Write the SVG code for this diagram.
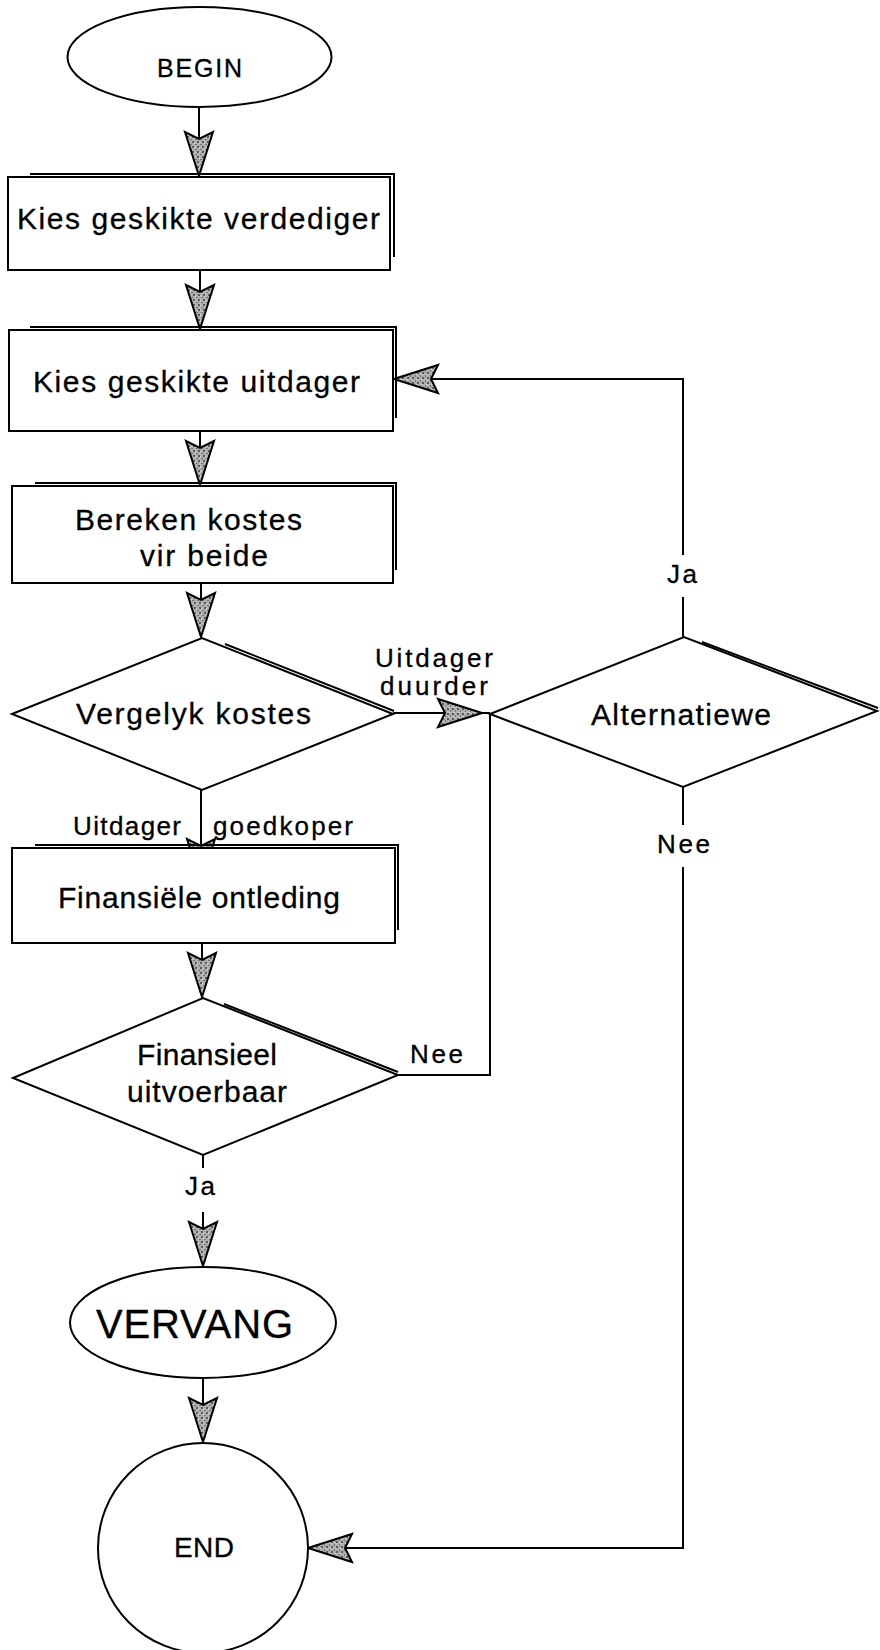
<svg xmlns="http://www.w3.org/2000/svg" width="880" height="1650" viewBox="0 0 880 1650">
<style>
.n{fill:#fff;stroke:#000;stroke-width:2}
.sh{fill:none;stroke:#000;stroke-width:2}
.c{fill:none;stroke:#000;stroke-width:2}
.t{font-family:"Liberation Sans",Arial,sans-serif;font-size:30px;fill:#000;stroke:#000;stroke-width:0.3}
.s{font-size:26px}
</style>
<defs>
<pattern id="stip" width="5" height="5" patternUnits="userSpaceOnUse">
<rect width="5" height="5" fill="#b0b0b0"/>
<circle cx="1" cy="1" r="0.9" fill="#333"/>
<circle cx="3.5" cy="3" r="0.7" fill="#555"/>
<circle cx="2" cy="4.2" r="0.5" fill="#fff"/>
</pattern>
<marker id="ah" markerUnits="userSpaceOnUse" viewBox="-47 -16 49 32" markerWidth="49" markerHeight="32" refX="0" refY="0" orient="auto">
<path d="M0,0 L-44,-14 L-37,0 L-44,14 Z" fill="url(#stip)" stroke="#000" stroke-width="2" stroke-linejoin="miter"/>
</marker>
</defs>
<rect width="880" height="1650" fill="#fff"/>

<g id="connectors">
<path class="c" d="M199,107 V176" marker-end="url(#ah)"/>
<path class="c" d="M200,270 V329" marker-end="url(#ah)"/>
<path class="c" d="M200,431 V485" marker-end="url(#ah)"/>
<path class="c" d="M201,583 V637" marker-end="url(#ah)"/>
<path class="c" d="M201,790 V883" marker-end="url(#ah)"/>
<path class="c" d="M202,943 V997" marker-end="url(#ah)"/>
<path class="c" d="M203,1155 V1168"/>
<path class="c" d="M203,1212 V1266" marker-end="url(#ah)"/>
<path class="c" d="M203,1378 V1442" marker-end="url(#ah)"/>
<path class="c" d="M393,713 H482" marker-end="url(#ah)"/>
<path class="c" d="M482,713 H490"/>
<path class="c" d="M398,1075 H490 V713"/>
<path class="c" d="M683,637 V597"/>
<path class="c" d="M683,555 V379 H394" marker-end="url(#ah)"/>
<path class="c" d="M683,787 V825"/>
<path class="c" d="M683,867 V1548 H308" marker-end="url(#ah)"/>
<text class="t s" x="375" y="667" textLength="118">Uitdager</text>
<text class="t s" x="380" y="695" textLength="108">duurder</text>
<text class="t s" x="73" y="835" textLength="108">Uitdager</text>
<text class="t s" x="213" y="835" textLength="140">goedkoper</text>
<text class="t s" x="667" y="583" textLength="30">Ja</text>
<text class="t s" x="657" y="853" textLength="53">Nee</text>
<text class="t s" x="410" y="1063" textLength="53">Nee</text>
<text class="t s" x="185" y="1195" textLength="30">Ja</text>
</g>

<g id="begin">
<ellipse class="n" cx="199.5" cy="57" rx="132" ry="50"/>
<text class="t" x="157" y="77" style="font-size:25px" textLength="85">BEGIN</text>
</g>

<g id="kies-verdediger">
<rect class="n" x="8" y="177" width="382" height="93"/>
<path class="sh" d="M30,174 H394 V257"/>
<text class="t" x="17" y="229" textLength="363">Kies geskikte verdediger</text>
</g>

<g id="kies-uitdager">
<rect class="n" x="9" y="330" width="384" height="101"/>
<path class="sh" d="M30,327 H396 V418"/>
<text class="t" x="33" y="392" textLength="327">Kies geskikte uitdager</text>
</g>

<g id="bereken">
<rect class="n" x="12" y="486" width="381" height="97"/>
<path class="sh" d="M35,483 H396 V570"/>
<text class="t" x="75" y="530" textLength="227">Bereken kostes</text>
<text class="t" x="140" y="566" textLength="128">vir beide</text>
</g>

<g id="vergelyk">
<polygon class="n" points="12,714 202,638 393,714 202,790"/>
<path class="sh" d="M225,644 L394,711"/>
<text class="t" x="76" y="724" textLength="235">Vergelyk kostes</text>
</g>

<g id="alternatiewe">
<polygon class="n" points="490,714 684,637 877,711 683,787"/>
<path class="sh" d="M702,642 L878,708"/>
<text class="t" x="591" y="725" textLength="180">Alternatiewe</text>
</g>

<g id="finansiele-ontleding">
<rect class="n" x="12" y="848" width="383" height="95"/>
<path class="sh" d="M35,845 H398 V930"/>
<text class="t" x="58" y="908" textLength="282">Finansiële ontleding</text>
</g>

<g id="finansieel-uitvoerbaar">
<polygon class="n" points="13,1078 203,998 398,1075 203,1155"/>
<path class="sh" d="M224,1004 L398,1072"/>
<text class="t" x="137" y="1065" textLength="140">Finansieel</text>
<text class="t" x="127" y="1102" textLength="160">uitvoerbaar</text>
</g>

<g id="vervang">
<ellipse class="n" cx="203" cy="1322.5" rx="133" ry="55.5"/>
<text class="t" x="96" y="1338" style="font-size:40px" textLength="197">VERVANG</text>
</g>

<g id="end">
<ellipse class="n" cx="203" cy="1548" rx="105" ry="105"/>
<text class="t" x="174" y="1557" style="font-size:28px" textLength="60">END</text>
</g>
</svg>
